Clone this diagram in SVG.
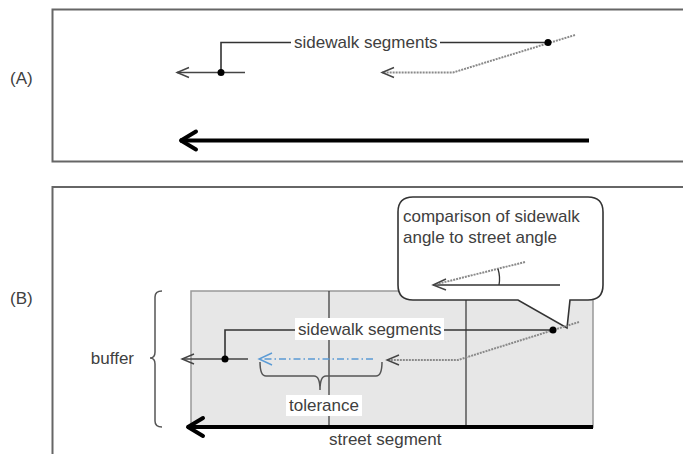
<svg xmlns="http://www.w3.org/2000/svg" width="683" height="454" viewBox="0 0 683 454">
<style>
text{font-family:"Liberation Sans",Arial,sans-serif;font-size:17px;fill:#404040}
.frame{fill:none;stroke:#666;stroke-width:2}
.thin{fill:none;stroke:#444;stroke-width:1.4}
.lead{fill:none;stroke:#333;stroke-width:1.6}
.dot{fill:none;stroke:#8a8a8a;stroke-width:2;stroke-dasharray:2 1}
.thick{fill:none;stroke:#000;stroke-width:4}
.blue{fill:none;stroke:#5b9bd5;stroke-width:1.3;stroke-dasharray:7 3 1.5 3}
.brace{fill:none;stroke:#555;stroke-width:1.5}
.div{stroke:#333;stroke-width:1.2}
.lbl{fill:#fff}
</style>
<defs>
<marker id="chev" markerUnits="userSpaceOnUse" viewBox="-14 -7 16 14" refX="0" refY="0" markerWidth="16" markerHeight="14" orient="auto" overflow="visible">
<path d="M-12,-5 L0,0 L-12,5" fill="none" stroke="#444" stroke-width="1.4"/>
</marker>
<marker id="chevBlue" markerUnits="userSpaceOnUse" viewBox="-14 -7 16 14" refX="0" refY="0" markerWidth="16" markerHeight="14" orient="auto" overflow="visible">
<path d="M-13,-6 L0,0 L-13,6" fill="none" stroke="#5b9bd5" stroke-width="1.4"/>
</marker>
<marker id="chevThick" markerUnits="userSpaceOnUse" viewBox="-20 -12 22 24" refX="0" refY="0" markerWidth="22" markerHeight="24" orient="auto" overflow="visible">
<path d="M-16,-9 L-1,0 L-16,9" fill="none" stroke="#000" stroke-width="4" stroke-linecap="round" stroke-linejoin="round"/>
</marker>
</defs>

<!-- Frames -->
<g id="frameA">
<path class="frame" d="M690,9.5 H52.5 V161.5 H690"/>
<text x="10" y="84">(A)</text>
</g>
<g id="frameB">
<path class="frame" d="M690,187 H52.5 V460"/>
<text x="10" y="304">(B)</text>
</g>

<!-- Buffer area -->
<g id="buffer">
<rect x="191" y="291" width="402" height="136" fill="#e7e7e7" stroke="#999" stroke-width="1.5"/>
<line class="div" x1="329" y1="291" x2="329" y2="427"/>
<line class="div" x1="466" y1="291" x2="466" y2="427"/>
<path class="brace" d="M162,291 Q155,291 155,297 V352 Q155,358 150,358 Q155,358 155,364 V421 Q155,427 162,427"/>
<text x="134" y="364" text-anchor="end">buffer</text>
</g>

<!-- Comparison bubble -->
<g id="bubble">
<path d="M413,197 H588 Q603,197 603,212 V285 Q603,300 588,300 H570 L567,328 L518,300 H413 Q398,300 398,285 V212 Q398,197 413,197 Z" fill="#fff" stroke="#333" stroke-width="1.6"/>
<text x="403" y="222">comparison of sidewalk</text>
<text x="403" y="243">angle to street angle</text>
<line x1="433" y1="285" x2="560" y2="285" stroke="#333" stroke-width="1.4"/>
<line class="dot" x1="525" y1="262" x2="435" y2="284.5" stroke-width="1.6"/>
<path d="M446,279 L433,285 L446,290" fill="none" stroke="#444" stroke-width="1.4"/>
<path d="M498,269 Q500.5,277 499,285" fill="none" stroke="#333" stroke-width="1.3"/>
</g>

<g id="connectors">
<!-- A: street -->
<line class="thick" x1="589" y1="140.5" x2="180" y2="140.5" marker-end="url(#chevThick)"/>
<!-- A: segment 1 -->
<line class="thin" x1="245" y1="72.5" x2="177" y2="72.5" marker-end="url(#chev)"/>
<!-- A: segment 2 -->
<polyline class="dot" points="575,35 453,72.5 382,72.5" marker-end="url(#chev)"/>
<!-- A: leaders -->
<polyline class="lead" points="221,72.5 221,42.5 291,42.5"/>
<line class="lead" x1="440" y1="42.5" x2="548" y2="42.5"/>

<!-- B: street -->
<line class="thick" x1="593" y1="427" x2="187" y2="427" marker-end="url(#chevThick)"/>
<!-- B: segment 1 -->
<line class="thin" x1="248" y1="359" x2="182" y2="359" marker-end="url(#chev)"/>
<!-- B: moved segment (blue) -->
<line class="blue" x1="373" y1="359" x2="259" y2="359" marker-end="url(#chevBlue)"/>
<!-- B: segment 2 -->
<polyline class="dot" points="579,322 458,360 387,360" marker-end="url(#chev)"/>
<!-- B: leaders -->
<polyline class="lead" points="225,359 225,330 296,330"/>
<line class="lead" x1="444" y1="330" x2="553" y2="330"/>
<!-- tolerance brace -->
<path class="brace" d="M260,362 Q260,376 266,376 H314 Q320,376 320,390 Q320,376 326,376 H376 Q382,376 382,362"/>
</g>

<g id="labelA">
<text x="294" y="48">sidewalk segments</text>
<circle cx="221" cy="72.5" r="3.5" fill="#000"/>
<circle cx="548" cy="42.5" r="3.5" fill="#000"/>
</g>

<g id="labelB">
<rect class="lbl" x="295" y="318" width="149" height="22"/>
<text x="298" y="335">sidewalk segments</text>
<circle cx="225" cy="359" r="3.5" fill="#000"/>
<circle cx="553" cy="330" r="3.5" fill="#000"/>
</g>

<g id="tolerance">
<rect class="lbl" x="286" y="395" width="76" height="21"/>
<text x="289" y="411">tolerance</text>
</g>

<g id="street">
<text x="329" y="445">street segment</text>
</g>
</svg>
